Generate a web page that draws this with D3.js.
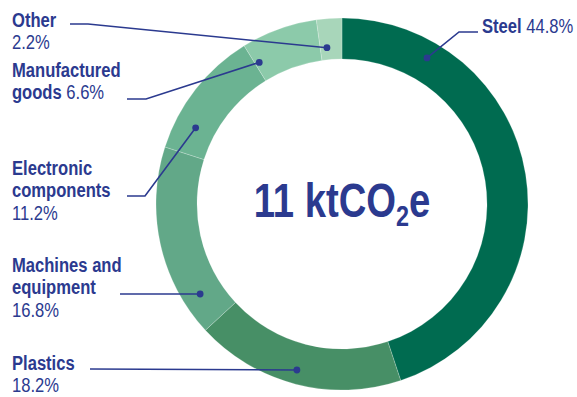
<!DOCTYPE html>
<html>
<head>
<meta charset="utf-8">
<script src="https://cdn.jsdelivr.net/npm/d3@7"></script>
<style>
  html, body { margin: 0; padding: 0; background: #fff; }
  svg text { font-family: "Liberation Sans", Arial, sans-serif; fill: #2b3a8f; }
</style>
</head>
<body>
<svg id="chart" width="577" height="397"></svg>
<script>
// Embodied emissions by material category (share of total, %)
const categories = ["Steel", "Plastics", "Machines and equipment", "Electronic components", "Manufactured goods", "Other"];
const shares = [44.8, 18.2, 16.8, 11.2, 6.6, 2.2];
const colors = ["#006b50", "#478f66", "#62a888", "#6bb392", "#8ccaaa", "#a8d6ba"];
const totalLabel = ["11 ktCO", "2", "e"];

// Label text split into lines: [bold part, regular part] per line
const labelLines = [
  [["Steel", " 44.8%"]],
  [["Plastics", ""], ["", "18.2%"]],
  [["Machines and", ""], ["equipment", ""], ["", "16.8%"]],
  [["Electronic", ""], ["components", ""], ["", "11.2%"]],
  [["Manufactured", ""], ["goods", " 6.6%"]],
  [["Other", ""], ["", "2.2%"]]
];

// Layout of each callout: text anchor, leader elbow, and the point on the ring (angle in degrees, radius)
const labelLayout = [
  { x: 482, y: 33, elbow: [[478, 32], [459, 32]], angle: 30.2, r: 169 },
  { x: 12, y: 370, elbow: [[90, 369]], angle: 195.2, r: 172 },
  { x: 12, y: 272, elbow: [[120, 294]], angle: 237.6, r: 168 },
  { x: 12, y: 175, elbow: [[127, 196], [145, 196]], angle: 297.5, r: 165 },
  { x: 12, y: 77, elbow: [[127, 99], [146, 99]], angle: 329.7, r: 164 },
  { x: 12, y: 27, elbow: [[70, 24], [88, 24]], angle: 354.5, r: 157 }
];

const cx = 342, cy = 204, outerR = 186, innerR = 145;
const lineH = 22.5;
const narrow = 0.79; // horizontal squeeze for a condensed face
const ink = "#2b3a8f";

const svg = d3.select("#chart");
const g = svg.append("g").attr("transform", `translate(${cx},${cy})`);

const pie = d3.pie().sort(null).value(d => d.value);
const arc = d3.arc().innerRadius(innerR).outerRadius(outerR);
const data = categories.map((c, i) => ({ name: c, value: shares[i], color: colors[i] }));

g.selectAll("path.slice")
  .data(pie(data))
  .join("path")
  .attr("class", "slice")
  .attr("d", arc)
  .attr("fill", d => d.data.color)
  .attr("stroke", "#ffffff")
  .attr("stroke-opacity", 0.35)
  .attr("stroke-width", 0.6);

// Callout leaders and dots
const toXY = (deg, r) => {
  const a = deg * Math.PI / 180;
  return [cx + r * Math.sin(a), cy - r * Math.cos(a)];
};
labelLayout.forEach(L => {
  const end = toXY(L.angle, L.r);
  svg.append("path")
    .attr("d", d3.line()(L.elbow.concat([end])))
    .attr("fill", "none")
    .attr("stroke", ink)
    .attr("stroke-width", 1.6);
  svg.append("circle")
    .attr("cx", end[0]).attr("cy", end[1]).attr("r", 3.4)
    .attr("fill", ink);
});

// Category labels
labelLayout.forEach((L, i) => {
  const t = svg.append("text")
    .attr("transform", `translate(${L.x},${L.y}) scale(${narrow},1)`)
    .attr("font-size", 21);
  labelLines[i].forEach((line, j) => {
    const first = t.append("tspan").attr("x", 0).attr("dy", j === 0 ? 0 : lineH);
    if (line[0]) {
      first.attr("font-weight", "bold").text(line[0]);
      if (line[1]) t.append("tspan").text(line[1]);
    } else {
      first.text(line[1]);
    }
  });
});

// Total in the centre
const tot = svg.append("text")
  .attr("transform", `translate(${cx},217) scale(0.78,1)`)
  .attr("text-anchor", "middle")
  .attr("font-size", 49)
  .attr("font-weight", "bold");
tot.append("tspan").text(totalLabel[0]);
tot.append("tspan").attr("font-size", 30).attr("dy", 9).text(totalLabel[1]);
tot.append("tspan").attr("dy", -9).text(totalLabel[2]);
</script>
</body>
</html>
